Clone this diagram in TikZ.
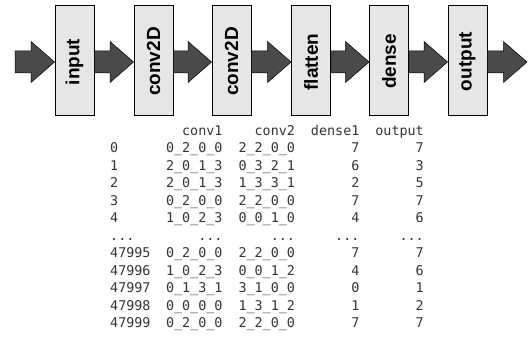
\documentclass[tikz,border=0pt]{standalone}
\usepackage{fontspec}
\setmainfont{Liberation Sans}
\newfontfamily\monof{DejaVu Sans Mono}
\usetikzlibrary{calc}
\definecolor{boxfill}{HTML}{E6E6E6}
\definecolor{arrfill}{HTML}{4A4A4A}
\definecolor{tabtext}{HTML}{333333}
\newcommand\tdots{...}
\newcommand\blockarrow[2]{%
  \draw[blockarr] let \p1=(#1), \p2=(#2) in
    (\x1,\y1+9pt) -- (\x2-23.5pt,\y1+9pt) -- (\x2-23.5pt,\y1+18.5pt) --
    (\x2,\y1-2pt) -- (\x2-23.5pt,\y1-22.5pt) -- (\x2-23.5pt,\y1-13pt) --
    (\x1,\y1-13pt) -- cycle;}
\begin{document}
\begin{tikzpicture}[x=1pt,y=-1pt,
  layer/.style={draw=black, line width=0.9pt, fill=boxfill,
    minimum width=39pt, minimum height=110pt, inner sep=0pt},
  lbl/.style={rotate=90, inner sep=0pt,
    font=\fontsize{19}{22}\selectfont\bfseries},
  blockarr/.style={draw=black, line width=0.5pt, fill=arrfill},
  cell/.style={inner sep=0pt, text=tabtext,
    font=\monof\fontsize{13.4}{16}\selectfont}]
\useasboundingbox (0,0) rectangle (530,337);

% layer boxes
\node[layer] (input) at (74.5,60) {};
\node[layer] (conva) at (153.5,60) {};
\node[layer] (convb) at (231.5,60) {};
\node[layer] (flat) at (311,60) {};
\node[layer] (dense) at (389,60) {};
\node[layer] (outp) at (467.5,60) {};

\node[lbl] (inputlbl) at (74.5,62) {input};
\node[lbl] (convalbl) at (153.5,61.5) {conv2D};
\node[lbl] (convblbl) at (231.5,61.5) {conv2D};
\node[lbl] (flatlbl) at (311,62) {flatten};
\node[lbl] (denselbl) at (389,61.5) {dense};
\node[lbl] (outplbl) at (467.5,61.5) {output};

% free ends
\coordinate (start) at (15,60);
\coordinate (finish) at (527,60);

% block arrows
\blockarrow{start}{input.west}
\blockarrow{input.east}{conva.west}
\blockarrow{conva.east}{convb.west}
\blockarrow{convb.east}{flat.west}
\blockarrow{flat.east}{dense.west}
\blockarrow{dense.east}{outp.west}
\blockarrow{outp.east}{finish}

% table header
\node[cell, anchor=base east] (hconva) at (222.7,135.3) {conv1};
\node[cell, anchor=base east] (hconvb) at (295.2,135.3) {conv2};
\node[cell, anchor=base east] (hdense) at (359.6,135.3) {dense1};
\node[cell, anchor=base east] (houtp) at (424,135.3) {output};

% table rows
\foreach \k/\a/\b/\c/\d/\e in {
  1/0/0\_2\_0\_0/2\_2\_0\_0/7/7,
  2/1/2\_0\_1\_3/0\_3\_2\_1/6/3,
  3/2/2\_0\_1\_3/1\_3\_3\_1/2/5,
  4/3/0\_2\_0\_0/2\_2\_0\_0/7/7,
  5/4/1\_0\_2\_3/0\_0\_1\_0/4/6,
  6/\tdots/\tdots/\tdots/\tdots/\tdots,
  7/47995/0\_2\_0\_0/2\_2\_0\_0/7/7,
  8/47996/1\_0\_2\_3/0\_0\_1\_2/4/6,
  9/47997/0\_1\_3\_1/3\_1\_0\_0/0/1,
  10/47998/0\_0\_0\_0/1\_3\_1\_2/1/2,
  11/47999/0\_2\_0\_0/2\_2\_0\_0/7/7}{
  \node[cell, anchor=base west] (i\k) at (110,{135.3+17.5*\k}) {\a};
  \node[cell, anchor=base east] (a\k) at (222.7,{135.3+17.5*\k}) {\b};
  \node[cell, anchor=base east] (b\k) at (295.2,{135.3+17.5*\k}) {\c};
  \node[cell, anchor=base east] (c\k) at (359.6,{135.3+17.5*\k}) {\d};
  \node[cell, anchor=base east] (d\k) at (424,{135.3+17.5*\k}) {\e};
}
\end{tikzpicture}
\end{document}
